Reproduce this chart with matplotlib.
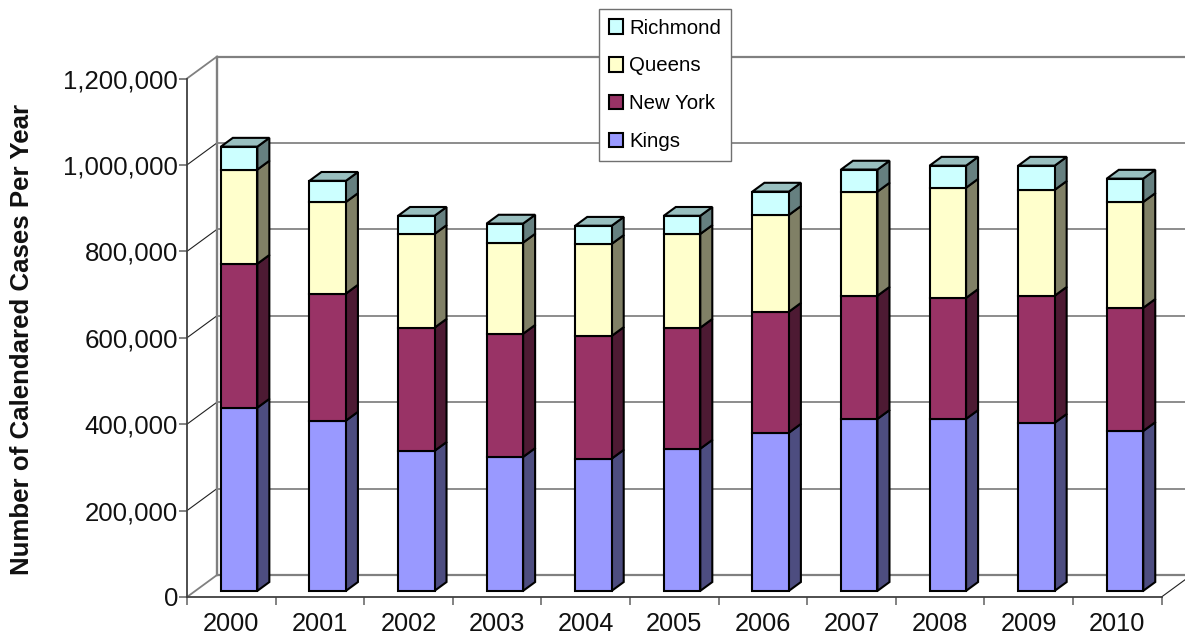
import matplotlib
matplotlib.use("Agg")
import matplotlib.pyplot as plt
from matplotlib.patches import Polygon, Patch

plt.rcParams['font.family'] = ['Liberation Sans', 'DejaVu Sans']

years = ['2000', '2001', '2002', '2003', '2004', '2005', '2006', '2007', '2008', '2009', '2010']
kings = [424000, 394000, 324000, 310000, 306000, 329000, 366000, 398000, 398000, 389000, 370000]
new_york = [333000, 294000, 285000, 285000, 284000, 280000, 280000, 285000, 280000, 294000, 285000]
queens = [218000, 212000, 217000, 211000, 213000, 217000, 224000, 241000, 255000, 245000, 245000]
richmond = [53000, 49000, 42000, 44000, 42000, 42000, 54000, 51000, 51000, 56000, 54000]

series_names = ['Kings', 'New York', 'Queens', 'Richmond']
series_values = [kings, new_york, queens, richmond]
front_colors = ['#9999FF', '#993366', '#FFFFCC', '#CCFFFF']
side_colors = ['#4D4D80', '#4D1A33', '#808066', '#668080']
top_color = '#99BFBF'
y_ticks = [0, 200000, 400000, 600000, 800000, 1000000, 1200000]

W, H = 1185, 636
fig = plt.figure(figsize=(W / 100, H / 100), dpi=100, facecolor='white')
L, R, B, T = 187, 1161.5, 597, 78.5
ax = fig.add_axes([L / W, 1 - B / H, (R - L) / W, (B - T) / H])
ax.set_xlim(0, len(years))
ax.set_ylim(0, 1200000)
ax.patch.set_visible(False)

# depth of the pseudo-3D box, in data units
DX = 30 * len(years) / (R - L)
DY = 22 * 1200000 / (B - T)

GRID = '#808080'
DARK = '#404040'
n = len(years)

# back wall and floor
for v in y_ticks:
    outer = v in (0, 1200000)
    ax.plot([DX, n + DX], [v + DY, v + DY], color=GRID if outer else '#6E6E6E',
            lw=1.6 if outer else 1.1, clip_on=False, zorder=1, solid_capstyle='butt')
    ax.plot([0, DX], [v, v + DY], color=GRID if outer else '#202020',
            lw=1.3 if outer else 0.8, clip_on=False, zorder=1)
ax.plot([DX, DX], [DY, 1200000 + DY], color=GRID, lw=1.7, clip_on=False, zorder=1)
ax.plot([n, n + DX], [0, DY], color='#202020', lw=0.8, clip_on=False, zorder=1)

# stacked prisms
width = 0.412
shift_x, shift_y = 0.26 * DX, 0.28 * DY
depth_x, depth_y = 0.40 * DX, 0.40 * DY
EDGE = dict(edgecolor='black', linewidth=1.5, joinstyle='miter', clip_on=False)
for i in range(n):
    x0 = i + 0.5 + shift_x - width / 2
    x1 = x0 + width
    base = shift_y
    for s, vals in enumerate(series_values):
        top = base + vals[i]
        ax.add_patch(Polygon([(x1, base), (x1 + depth_x, base + depth_y),
                              (x1 + depth_x, top + depth_y), (x1, top)],
                             facecolor=side_colors[s], zorder=3 + i, **EDGE))
        ax.bar(x0, vals[i], width=width, bottom=base, align='edge',
               facecolor=front_colors[s], zorder=3.2 + i, **EDGE)
        base = top
    ax.add_patch(Polygon([(x0, base), (x1, base), (x1 + depth_x, base + depth_y),
                          (x0 + depth_x, base + depth_y)],
                         facecolor=top_color, zorder=3.1 + i, **EDGE))

# axes
for side in ('top', 'right'):
    ax.spines[side].set_visible(False)
for side in ('left', 'bottom'):
    ax.spines[side].set_color(DARK)
    ax.spines[side].set_linewidth(1.3)
ax.set_yticks(y_ticks)
ax.set_yticklabels([f'{v:,}' for v in y_ticks], va='center_baseline')
ax.set_xticks(range(n + 1))
ax.set_xticklabels([''] * (n + 1))
ax.tick_params(axis='both', length=5.5, width=1.1, color='#606060', labelsize=18.6,
               labelcolor='#111111')
ax.tick_params(axis='y', pad=1)
for i, y in enumerate(years):
    ax.annotate(y, (i + 0.5, 0), xytext=(0, -19.5), textcoords='offset points',
                ha='center', va='center', fontsize=18.3, color='#111111', annotation_clip=False)

fig.text(22 / W, 1 - 339 / H, 'Number of Calendared Cases Per Year', rotation=90,
         ha='center', va='center', fontsize=18.6, fontweight='bold', color='#111111')

handles = [Patch(facecolor=front_colors[s], edgecolor='black', linewidth=1.5, label=series_names[s])
           for s in (3, 2, 1, 0)]
leg = fig.legend(handles=handles, loc='upper left', bbox_to_anchor=(599 / W, 1 - 9 / H),
                 borderaxespad=0, fontsize=14.7, frameon=True, fancybox=False,
                 edgecolor='#707070', facecolor='white', framealpha=1,
                 handlelength=0.72, handleheight=0.72, handletextpad=0.3,
                 labelspacing=0.92, borderpad=0.47)
leg.get_frame().set_linewidth(1.0)
leg.set_zorder(50)

fig.savefig('out.png', dpi=100)
